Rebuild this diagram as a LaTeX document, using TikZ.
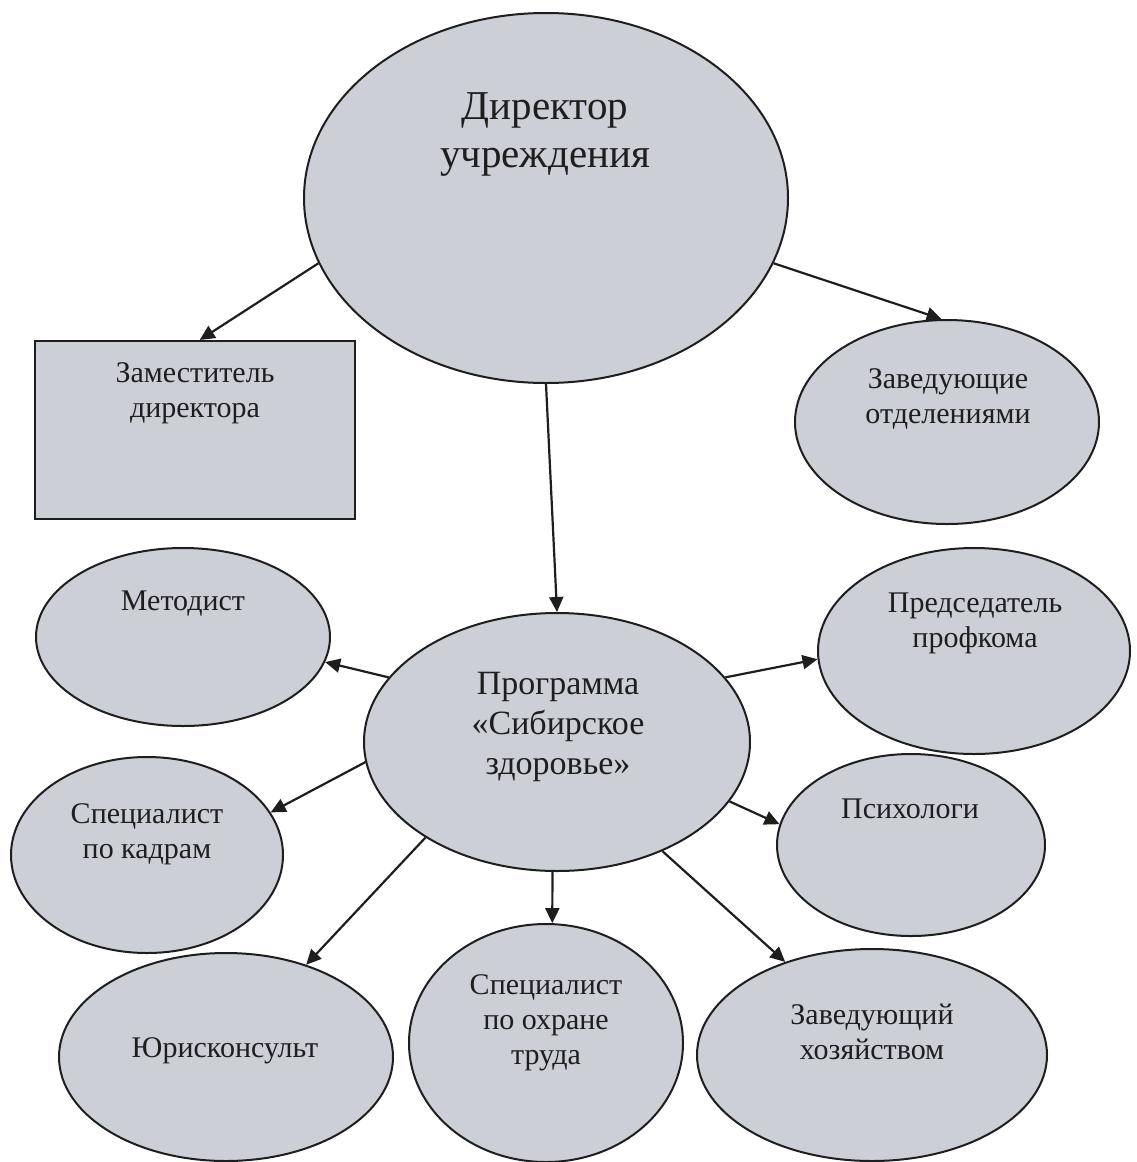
\documentclass[tikz,border=0pt]{standalone}
\usepackage{fontspec}
\setmainfont{Liberation Serif}
\usepackage{tikz}
\usetikzlibrary{arrows.meta,shapes.geometric}
\definecolor{boxgray}{RGB}{204,207,213}
\definecolor{inkgray}{RGB}{30,30,30}
\tikzset{
	oval/.style={ellipse, draw=inkgray, line width=1pt, fill=boxgray, inner sep=0pt},
	card/.style={rectangle, draw=inkgray, line width=1pt, fill=boxgray, inner sep=0pt},
	txt/.style={align=center, text=inkgray, inner sep=0pt, font=\fontsize{15}{17.5}\selectfont},
	link/.style={draw=inkgray, line width=1.1pt, -{Triangle[length=7.5pt,width=7pt]}}
}

\begin{document}
\begin{tikzpicture}[x=0.5pt,y=-0.5pt]
			%%%%% START %%%%%
			\useasboundingbox[fill=white] (0,0) rectangle (1136,1162);
			
			\node[oval, minimum width=242pt, minimum height=185pt] (dir) at (546,198) {};
			\node[txt, font=\fontsize{20.5}{24}\selectfont] (dirtxt) at (545,134) {Директор\\учреждения};
			
			\node[card, minimum width=160pt, minimum height=89pt] (dep) at (195,430) {};
			\node[txt] (deptxt) at (195,393) {Заместитель\\директора};
			
			\node[oval, minimum width=152pt, minimum height=102pt] (heads) at (947,422) {};
			\node[txt] (headstxt) at (948,399) {Заведующие\\отделениями};
			
			\node[oval, minimum width=193pt, minimum height=129pt] (prog) at (557,742) {};
			\node[txt, font=\fontsize{17}{20}\selectfont] (progtxt) at (558,727) {Программа\\«Сибирское\\здоровье»};
			
			\node[oval, minimum width=147pt, minimum height=89pt] (meth) at (183,637) {};
			\node[txt] (methtxt) at (183,604) {Методист};
			
			\node[oval, minimum width=156pt, minimum height=103pt] (union) at (974,651) {};
			\node[txt] (uniontxt) at (975,623) {Председатель\\профкома};
			
			\node[oval, minimum width=136pt, minimum height=98pt] (staff) at (147,855) {};
			\node[txt] (stafftxt) at (147,834) {Специалист\\по кадрам};
			
			\node[oval, minimum width=134pt, minimum height=91pt] (psy) at (911,845) {};
			\node[txt] (psytxt) at (910,809) {Психологи};
			
			\node[oval, minimum width=167pt, minimum height=104pt] (law) at (226,1057) {};
			\node[txt] (lawtxt) at (225,1051) {Юрисконсульт};
			
			\node[oval, minimum width=137pt, minimum height=119pt] (safe) at (546,1043) {};
			\node[txt] (safetxt) at (546,1023) {Специалист\\по охране\\труда};
			
			\node[oval, minimum width=175pt, minimum height=106pt] (supply) at (872,1055) {};
			\node[txt] (supplytxt) at (872,1032) {Заведующий\\хозяйством};
			
			% arrows
			\draw[link] (dir.196) -- (dep.87);
			\draw[link] (dir.344) -- (heads.93);
			\draw[link] (dir.south) -- (prog.north);
			
			\draw[link] (prog.159) -- (meth.350);
			\draw[link] (prog.21) -- (union.183);
			\draw[link] (prog.186) -- (staff.19);
			\draw[link] (prog.341) -- (psy.171);
			\draw[link] (prog.216) -- (law.49);
			\draw[link] (prog.268) -- (safe.87);
			\draw[link] (prog.314) -- (supply.133);
			
			%%%%% END %%%%%
\end{tikzpicture}
\end{document}
